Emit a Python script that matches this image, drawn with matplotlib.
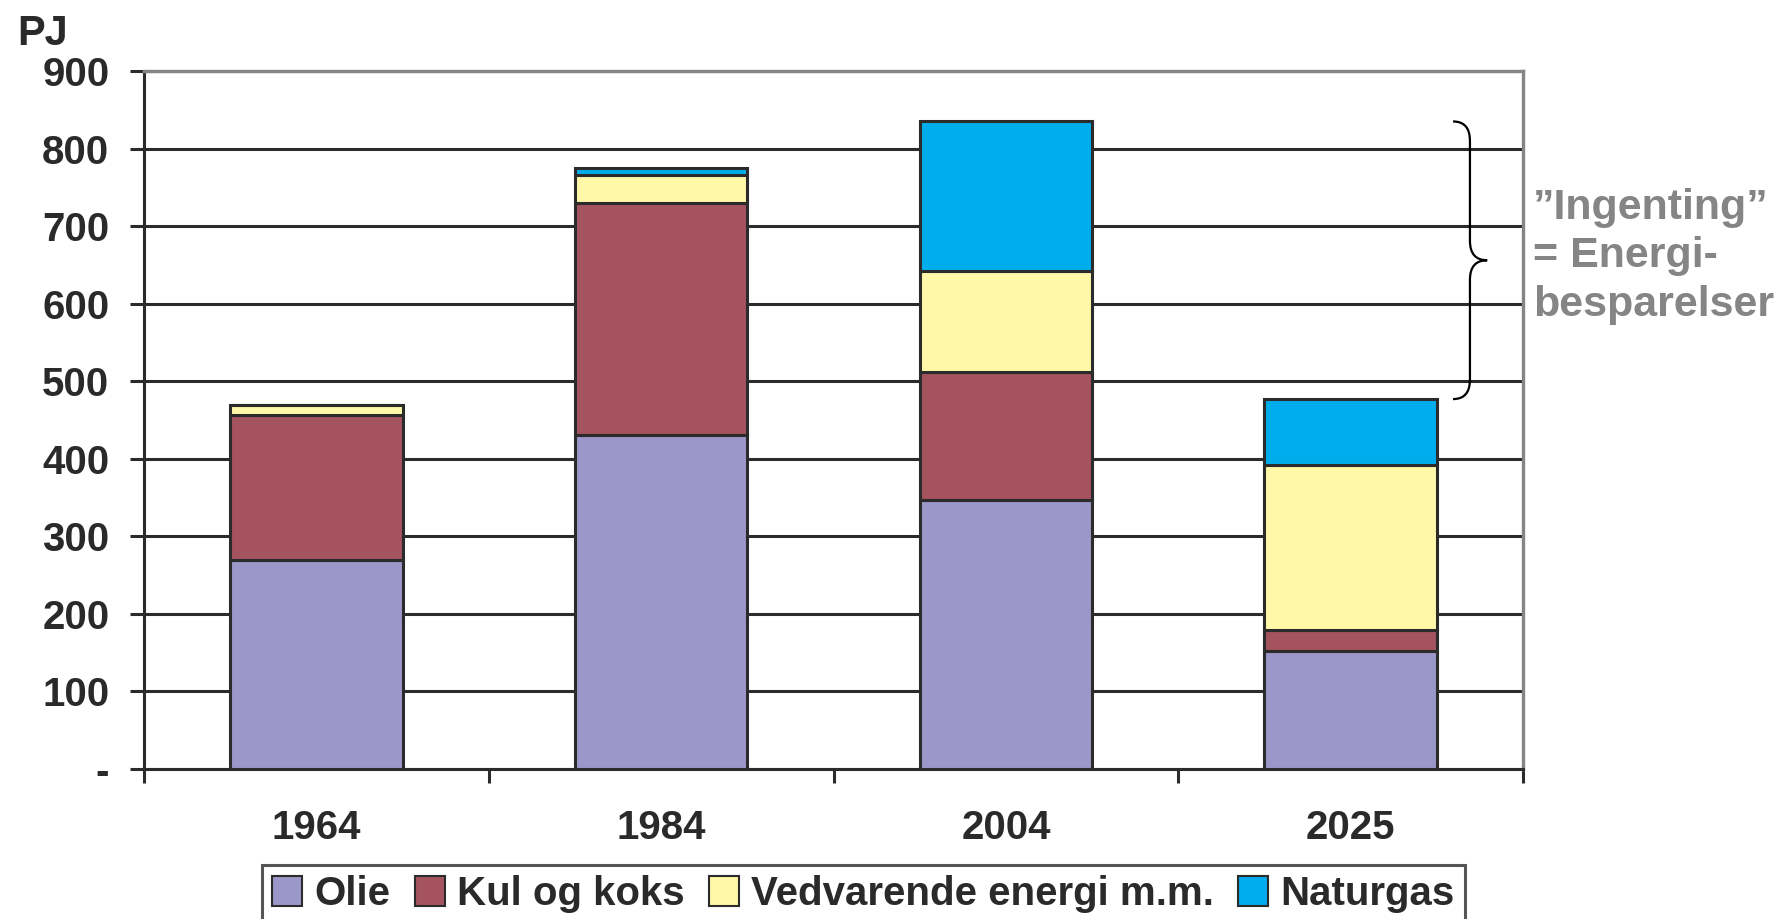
import matplotlib
matplotlib.use("Agg")
import matplotlib.pyplot as plt
import numpy as np
from matplotlib.path import Path
from matplotlib.patches import PathPatch

plt.rcParams['font.family'] = ['Liberation Sans', 'DejaVu Sans']

# data (PJ)
years = ['1964', '1984', '2004', '2025']
olie = [270, 431, 347, 152]
kul = [187, 299, 165, 27]
vedvarende = [13, 36, 130, 213]
naturgas = [0, 9, 193, 85]

series = [
    ('Olie', olie, '#9b97c8'),
    ('Kul og koks', kul, '#a5535f'),
    ('Vedvarende energi m.m.', vedvarende, '#fff8a8'),
    ('Naturgas', naturgas, '#00adec'),
]
yticks = list(range(0, 1000, 100))
ytick_labels = ['-'] + [str(v) for v in yticks[1:]]

dark = '#2b2b2b'
gray = '#858585'
textcol = '#2a2a2a'

fig = plt.figure(figsize=(17.78, 9.19), dpi=100)
ax = fig.add_axes([0.081, 0.1632, 0.7756, 0.7595])

x = np.arange(len(years))
bottom = np.zeros(len(years))
for name, vals, color in series:
    ax.bar(x, vals, 0.5, bottom=bottom, color=color, edgecolor=dark,
           linewidth=2.2, label=name, zorder=3)
    bottom += np.array(vals)

ax.set_xlim(-0.5, len(years) - 0.5)
ax.set_ylim(0, 900)
ax.set_yticks(yticks)
ax.set_yticklabels(ytick_labels, fontweight='bold')
ax.set_xticks(x)
ax.set_xticklabels(years, fontweight='bold')
ax.set_xticks(np.arange(-0.5, len(years), 1.0), minor=True)

ax.tick_params(axis='y', length=10, width=2.2, color=dark, pad=15,
               labelsize=29, labelcolor=textcol)
ax.tick_params(axis='x', which='major', length=0, pad=29,
               labelsize=29, labelcolor=textcol)
ax.tick_params(axis='x', which='minor', length=10, width=2.2, color=dark)

ax.grid(axis='y', color=dark, linewidth=2.2, zorder=1)
ax.set_axisbelow(True)
for side in ['left', 'bottom']:
    ax.spines[side].set_color(dark)
    ax.spines[side].set_linewidth(2.2)
for side in ['top', 'right']:
    ax.spines[side].set_color(gray)
    ax.spines[side].set_linewidth(2.4)

# curly brace between the 2025 total and the 2004 total
totals = bottom
ytop, ybot = totals[2], totals[3]
ymid = (ytop + ybot) / 2
x0, xm, xt = 3.297, 3.346, 3.396
r = 25
verts = [(x0, ytop), (xm, ytop), (xm, ytop - r),
         (xm, ymid + r), (xm, ymid), (xt, ymid),
         (xm, ymid), (xm, ymid - r),
         (xm, ybot + r), (xm, ybot), (x0, ybot)]
codes = [Path.MOVETO, Path.CURVE3, Path.CURVE3,
         Path.LINETO, Path.CURVE3, Path.CURVE3,
         Path.CURVE3, Path.CURVE3,
         Path.LINETO, Path.CURVE3, Path.CURVE3]
ax.add_patch(PathPatch(Path(verts, codes), facecolor='none', edgecolor='black',
                       linewidth=1.6, clip_on=False, zorder=4))

note_lines = ['\u201dIngenting\u201d', '= Energi-', 'besparelser']
for i, line in enumerate(note_lines):
    fig.text(1533 / 1778, 1 - (208 + 48.5 * i) / 919, line, ha='left', va='center',
             fontsize=31, fontweight='bold', color=gray)

fig.text(17 / 1778, 1 - 45 / 919, 'PJ', ha='left', va='baseline',
         fontsize=30, fontweight='bold', color=textcol)

leg = fig.legend(loc='upper left', bbox_to_anchor=(262 / 1778, 1 - 865 / 919),
                 ncol=4, prop={'size': 29, 'weight': 'bold'}, frameon=True,
                 fancybox=False, handlelength=0.75, handleheight=0.75,
                 handletextpad=0.3, columnspacing=0.6, borderpad=0.25,
                 borderaxespad=0)
leg.get_frame().set_edgecolor(dark)
leg.get_frame().set_linewidth(2.2)
for h in leg.legend_handles:
    h.set_linewidth(1.5)
for t in leg.get_texts():
    t.set_color(textcol)

fig.savefig('out.png', dpi=100)
